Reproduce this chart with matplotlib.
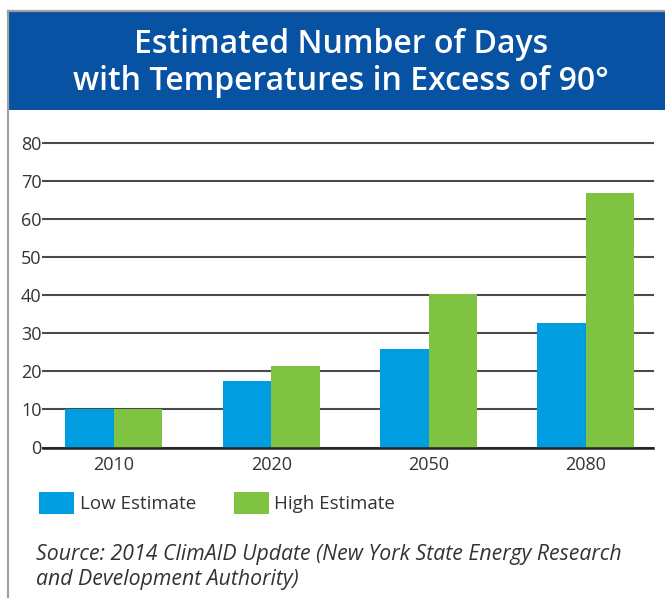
import numpy as np
import matplotlib.pyplot as plt
from matplotlib.patches import Rectangle
from matplotlib.lines import Line2D

# data
years = ['2010', '2020', '2050', '2080']
low_estimate = [10, 17.6, 25.8, 32.8]
high_estimate = [10, 21.3, 40.2, 66.9]
y_ticks = [0, 10, 20, 30, 40, 50, 60, 70, 80]
series_names = ['Low Estimate', 'High Estimate']
title_lines = ['Estimated Number of Days', 'with Temperatures in Excess of 90°']
source_lines = ['Source: 2014 ClimAID Update (New York State Energy Research',
                'and Development Authority)']

W, H = 665, 598
plt.rcParams['font.family'] = ['Open Sans', 'DejaVu Sans']

fig = plt.figure(figsize=(W / 100, H / 100), dpi=100)


def fx(x):
    return x / W


def fy(y):
    return 1 - y / H


# frame + banner
fig.add_artist(Line2D([fx(8), fx(8)], [0, fy(11)], color='#a0a0a0', lw=1.6))
fig.add_artist(Line2D([fx(8), 1], [fy(11), fy(11)], color='#a0a0a0', lw=1.6))
fig.add_artist(Rectangle((fx(9), fy(110)), 1 - fx(9), fy(12) - fy(110),
                         transform=fig.transFigure, color='#0752a3', lw=0))
fig.text(fx(341), fy(53), title_lines[0], color='white', fontsize=23,
         fontweight='semibold', ha='center', va='baseline')
fig.text(fx(341), fy(90), title_lines[1], color='white', fontsize=23,
         fontweight='semibold', ha='center', va='baseline')

# chart
ax = fig.add_axes([fx(43), fy(447.5), fx(653) - fx(43), fy(143) - fy(447.5)])
x = np.arange(len(years))
w = 0.308
b1 = ax.bar(x - w / 2, low_estimate, w, color='#009ee0', lw=0, label=series_names[0])
b2 = ax.bar(x + w / 2, high_estimate, w, color='#80c241', lw=0, label=series_names[1])
ax.set_xlim(-0.451, 3.427)
ax.set_ylim(0, 80)
ax.set_xticks(x)
ax.set_xticklabels(years)
ax.set_yticks(y_ticks)
ax.set_axisbelow(True)
ax.grid(axis='y', color='#4a4a4a', lw=1.5)
for gl in ax.get_ygridlines():
    gl.set_clip_on(False)
for s in ['top', 'right', 'left']:
    ax.spines[s].set_visible(False)
ax.spines['bottom'].set_color('#222222')
ax.spines['bottom'].set_linewidth(1.8)
ax.tick_params(axis='both', length=0, labelsize=13, labelcolor='#333333')
ax.tick_params(axis='y', pad=1)
ax.tick_params(axis='x', pad=6)

# legend
fs = 13.5
leg = fig.legend(handles=[b1, b2], loc='upper left',
                 bbox_to_anchor=(fx(39), fy(492)), frameon=False, ncol=2,
                 fontsize=fs, borderpad=0, borderaxespad=0,
                 handlelength=1.88, handleheight=1.4, handletextpad=0.3,
                 columnspacing=2.0)
for t in leg.get_texts():
    t.set_color('#333333')

# source note
fig.text(fx(36), fy(560), source_lines[0], fontsize=15.3, style='italic',
         color='#333333', va='baseline')
fig.text(fx(36), fy(585), source_lines[1], fontsize=15.3, style='italic',
         color='#333333', va='baseline')

fig.savefig('out.png', dpi=100)
